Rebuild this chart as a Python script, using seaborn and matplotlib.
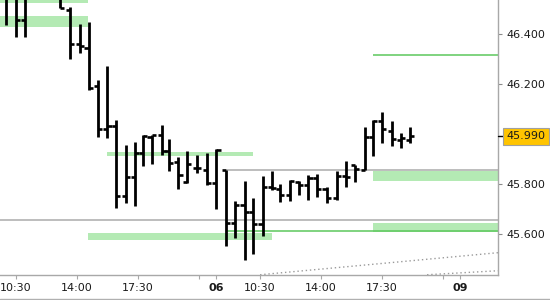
import matplotlib
matplotlib.use("Agg")
import matplotlib.pyplot as plt
import matplotlib.transforms as mtransforms
from matplotlib.lines import Line2D
import seaborn as sns
import pandas as pd

# ---- data (x = session hours: 05 08:00 -> 0, 06 08:00 -> 14, 09 08:00 -> 28) ----
bar_time = [1.94, 2.52, 3.03, 5.04, 5.62, 6.19, 6.68, 7.22, 7.76, 8.25, 8.83, 9.35,
            9.79, 10.30, 10.88, 11.31, 11.84, 12.33, 12.90, 13.48, 14.02, 14.55, 15.08,
            15.63, 16.11, 16.66, 17.19, 17.66, 18.24, 18.75, 19.29, 19.77, 20.34, 20.92,
            21.45, 21.97, 22.54, 23.00, 23.53, 24.09, 24.59, 25.12]
bar_open = [46.56, 46.56, 46.455, 46.56, 46.496, 46.357, 46.343, 46.189, 46.019, 46.030,
            45.753, 45.827, 45.924, 45.987, 45.996, 45.930, 45.886, 45.806, 45.863, 45.854,
            45.803, 45.857, 45.646, 45.717, 45.690, 45.641, 45.788, 45.780, 45.757, 45.809,
            45.797, 45.824, 45.780, 45.744, 45.833, 45.877, 45.854, 45.988, 46.052, 46.013,
            45.977, 45.976]
bar_high = [46.58, 46.58, 46.58, 46.58, 46.506, 46.439, 46.447, 46.213, 46.271, 46.056,
            45.956, 45.969, 45.996, 45.996, 46.036, 45.979, 45.908, 45.930, 45.916, 45.923,
            45.938, 45.857, 45.734, 45.810, 45.744, 45.830, 45.850, 45.801, 45.817, 45.810,
            45.837, 45.841, 45.790, 45.850, 45.890, 45.877, 46.027, 46.056, 46.089, 46.052,
            46.002, 46.026]
bar_low = [46.435, 46.388, 46.388, 46.501, 46.297, 46.323, 46.173, 45.989, 45.983, 45.704,
           45.725, 45.711, 45.870, 45.880, 45.916, 45.850, 45.780, 45.804, 45.843, 45.797,
           45.701, 45.551, 45.584, 45.498, 45.522, 45.591, 45.777, 45.729, 45.734, 45.757,
           45.737, 45.750, 45.724, 45.737, 45.790, 45.807, 45.855, 45.910, 45.963, 45.952,
           45.943, 45.962]
bar_close = [46.55, 46.455, 46.56, 46.501, 46.357, 46.351, 46.182, 46.019, 46.030, 45.753,
             45.827, 45.922, 45.993, 45.996, 45.930, 45.883, 45.837, 45.880, 45.863, 45.803,
             45.934, 45.646, 45.717, 45.690, 45.641, 45.788, 45.783, 45.757, 45.813, 45.797,
             45.824, 45.780, 45.744, 45.833, 45.829, 45.860, 45.988, 46.052, 46.018, 45.978,
             45.983, 45.990]

# green zones
zone_start = [1.6, 1.6, 7.74, 6.65, 23.0, 23.0]
zone_end = [6.65, 6.65, 16.11, 17.20, 30.2, 30.2]
zone_low = [46.522, 46.427, 45.910, 45.575, 45.810, 45.607]
zone_high = [46.56, 46.471, 45.927, 45.604, 45.850, 45.644]

# horizontal levels
grey_start = [1.6, 14.62]
grey_end = [30.2, 30.2]
grey_level = [45.655, 45.855]
green_start = [23.0, 14.62]
green_end = [30.2, 30.2]
green_level = [46.315, 45.612]

# dotted projection lines
dotA_time = [16.52, 30.17]
dotA_price = [45.438, 45.526]
dotB_time = [26.1, 30.17]
dotB_price = [45.438, 45.454]

tick_pos = [2.5, 6, 9.5, 14, 16.5, 20, 23.5, 28]
tick_labels = ["10:30", "14:00", "17:30", "06", "10:30", "14:00", "17:30", "09"]
minor_pos = [13, 27]
y_ticks = [45.6, 45.8, 46.2, 46.4]
last_price = 45.990

# ---- drawing ----
sns.set_theme(style="white")
plt.rcParams['font.family'] = ['DejaVu Sans']

fig = plt.figure(figsize=(5.5, 3.0), dpi=100)
ax = fig.add_axes([0, 25 / 300, 498 / 550, 275 / 300])
ax.set_xlim(1.6, 30.17)
ax.set_ylim(45.437, 46.534)

zone_green = "#b4eab4"
for x0, x1, lo, hi in zip(zone_start, zone_end, zone_low, zone_high):
    ax.fill_between([x0, x1], [lo, lo], [hi, hi], color=zone_green, lw=0, zorder=1)

ax.hlines(grey_level, grey_start, grey_end, colors="#ababab", lw=1.1, zorder=2)
ax.hlines(green_level, green_start, green_end, colors="#5cc85c", lw=1.1, zorder=2)

dots = pd.DataFrame({
    "t": dotA_time + dotB_time,
    "p": dotA_price + dotB_price,
    "line": ["a"] * len(dotA_time) + ["b"] * len(dotB_time),
})
sns.lineplot(data=dots, x="t", y="p", units="line", estimator=None, ax=ax,
             color="#9a9a9a", lw=1.0, linestyle=(0, (1, 2)), zorder=2, legend=False)

w = 0.24
ax.vlines(bar_time, bar_low, bar_high, colors="black", lw=2.0, zorder=4)
ax.hlines(bar_open, [t - w for t in bar_time], bar_time, colors="black", lw=1.9, zorder=4)
ax.hlines(bar_close, bar_time, [t + w for t in bar_time], colors="black", lw=1.9, zorder=4)

# axes styling
for s in ["left", "top"]:
    ax.spines[s].set_visible(False)
for s in ["right", "bottom"]:
    ax.spines[s].set_color("#a8a8a8")
    ax.spines[s].set_linewidth(1.0)
ax.set_xlabel("")
ax.set_ylabel("")

ax.yaxis.tick_right()
ax.set_yticks(y_ticks)
ax.set_yticklabels([f"{v:.3f}" for v in y_ticks])
ax.tick_params(axis="y", which="major", right=True, length=3, width=0.8, color="#8a8a8a",
               labelsize=8, labelcolor="#1a1a1a", pad=3)

ax.set_xticks(tick_pos)
ax.set_xticklabels(tick_labels)
ax.set_xticks(minor_pos, minor=True)
ax.tick_params(axis="x", which="both", bottom=True, length=3, width=0.8, color="#a8a8a8",
               labelsize=8, labelcolor="#1a1a1a", pad=2.5)
for lbl in ax.get_xticklabels():
    if lbl.get_text() in ("06", "09"):
        lbl.set_fontweight("bold")
ax.grid(False)

# last price marker
trans = mtransforms.blended_transform_factory(ax.transAxes, ax.transData)
ax.plot([1.0, 1.012], [last_price, last_price], color="black", lw=1.0,
        transform=trans, clip_on=False, zorder=5)
ax.text(1.017, last_price, f"{last_price:.3f}", transform=trans, va="center", ha="left",
        fontsize=8, color="#1a1a1a", zorder=6,
        bbox=dict(boxstyle="square,pad=0.3", facecolor="#ffc400", edgecolor="#a0a0a0", lw=0.8))

fig.add_artist(Line2D([0, 1], [0.6 / 300, 0.6 / 300], color="#b0b0b0", lw=1.0,
                      transform=fig.transFigure))

fig.savefig("out.png", dpi=100)
